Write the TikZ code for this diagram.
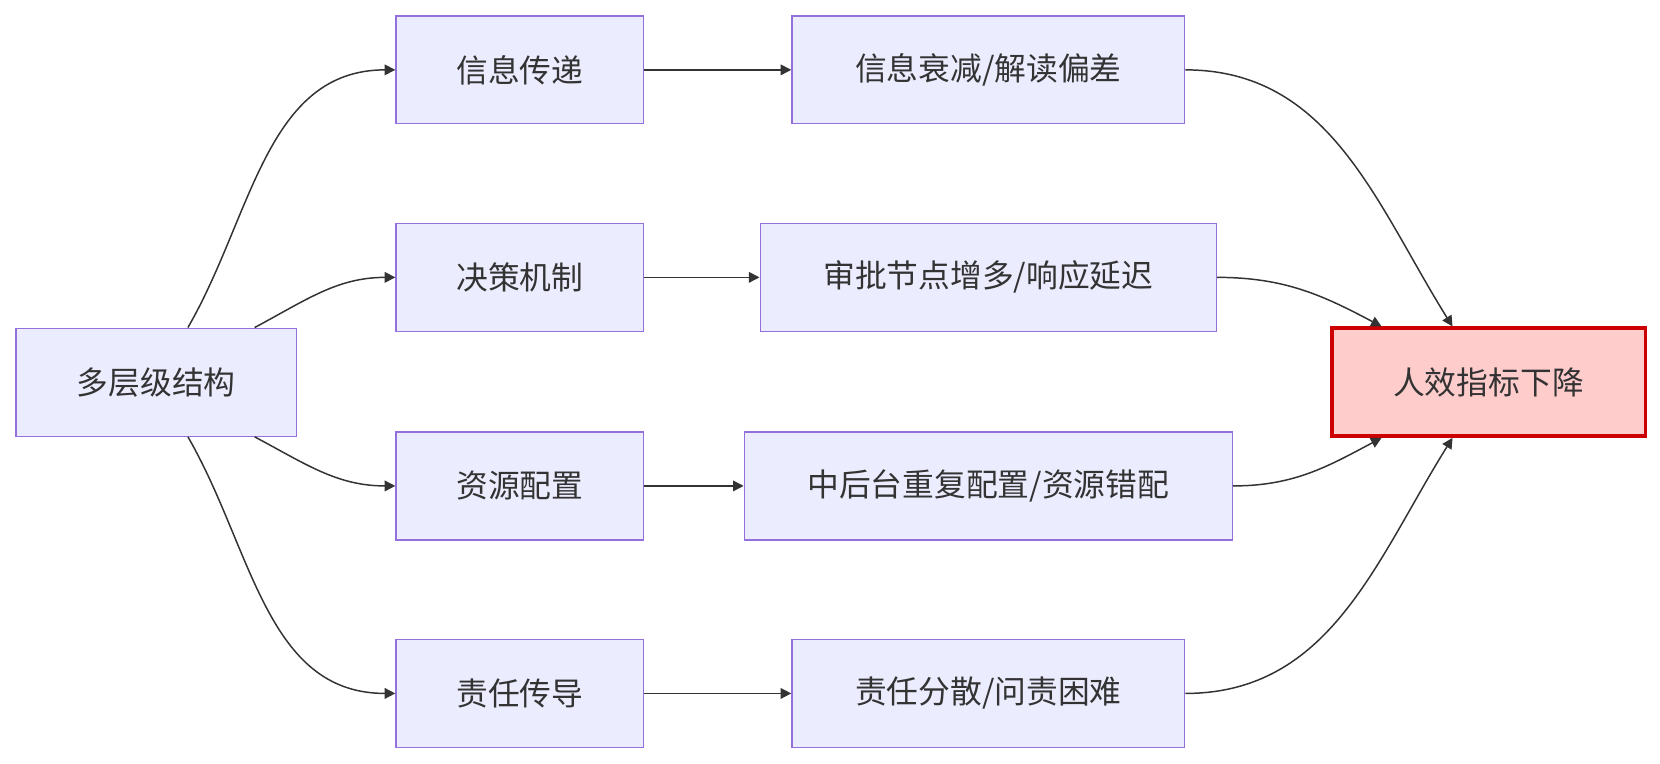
\documentclass[tikz,border=0pt]{standalone}
\usepackage{fontspec}
\setmainfont{Noto Sans CJK SC}
\usetikzlibrary{arrows.meta}
\definecolor{boxfill}{HTML}{ECECFF}
\definecolor{boxline}{HTML}{9370DB}
\definecolor{hotfill}{HTML}{FFCCCC}
\definecolor{hotline}{HTML}{CC0000}
\definecolor{ink}{HTML}{333333}
\begin{document}
\begin{tikzpicture}[x=0.5pt, y=-0.5pt,
    box/.style={draw=boxline, fill=boxfill, line width=0.6pt, minimum height=51pt, text=ink, font=\fontsize{15}{18}\selectfont, inner sep=0pt},
    hot/.style={box, draw=hotline, fill=hotfill, line width=1.6pt},
    arr/.style={draw=ink, line width=0.7pt, -{Triangle[length=5pt,width=5pt]}}]
    \useasboundingbox (0,0) rectangle (1568,721.6);
    \node[box, minimum width=132.5pt] (multi) at (147.5,361) {多层级结构};

    \node[box, minimum width=117pt] (info) at (491,66) {信息传递};
    \node[box, minimum width=117pt] (decide) at (491,262) {决策机制};
    \node[box, minimum width=117pt] (res) at (491,459) {资源配置};
    \node[box, minimum width=117pt] (duty) at (491,655) {责任传导};

    \node[box, minimum width=185.5pt] (infoloss) at (933.5,66) {信息衰减/解读偏差};
    \node[box, minimum width=215.5pt] (delay) at (933.5,262) {审批节点增多/响应延迟};
    \node[box, minimum width=230.5pt] (waste) at (933.5,459) {中后台重复配置/资源错配};
    \node[box, minimum width=185.5pt] (blur) at (933.5,655) {责任分散/问责困难};

    \node[hot, minimum width=148pt] (drop) at (1406,361) {人效指标下降};

    \draw[arr] ([xshift=15pt]multi.north) to[out=60, in=180] (info.west);
    \draw[arr] ([xshift=46.5pt]multi.north) to[out=28, in=180] (decide.west);
    \draw[arr] ([xshift=46.5pt]multi.south) to[out=-28, in=180] (res.west);
    \draw[arr] ([xshift=15pt]multi.south) to[out=-60, in=180] (duty.west);

    \draw[arr] (info) -- (infoloss);
    \draw[arr] (decide) -- (delay);
    \draw[arr] (res) -- (waste);
    \draw[arr] (duty) -- (blur);

    \draw[arr] (infoloss.east) to[out=0, in=122] ([xshift=-17pt]drop.north);
    \draw[arr] (delay.east) to[out=0, in=152] ([xshift=-50.5pt]drop.north);
    \draw[arr] (waste.east) to[out=0, in=-152] ([xshift=-50.5pt]drop.south);
    \draw[arr] (blur.east) to[out=0, in=-122] ([xshift=-17pt]drop.south);
\end{tikzpicture}
\end{document}
